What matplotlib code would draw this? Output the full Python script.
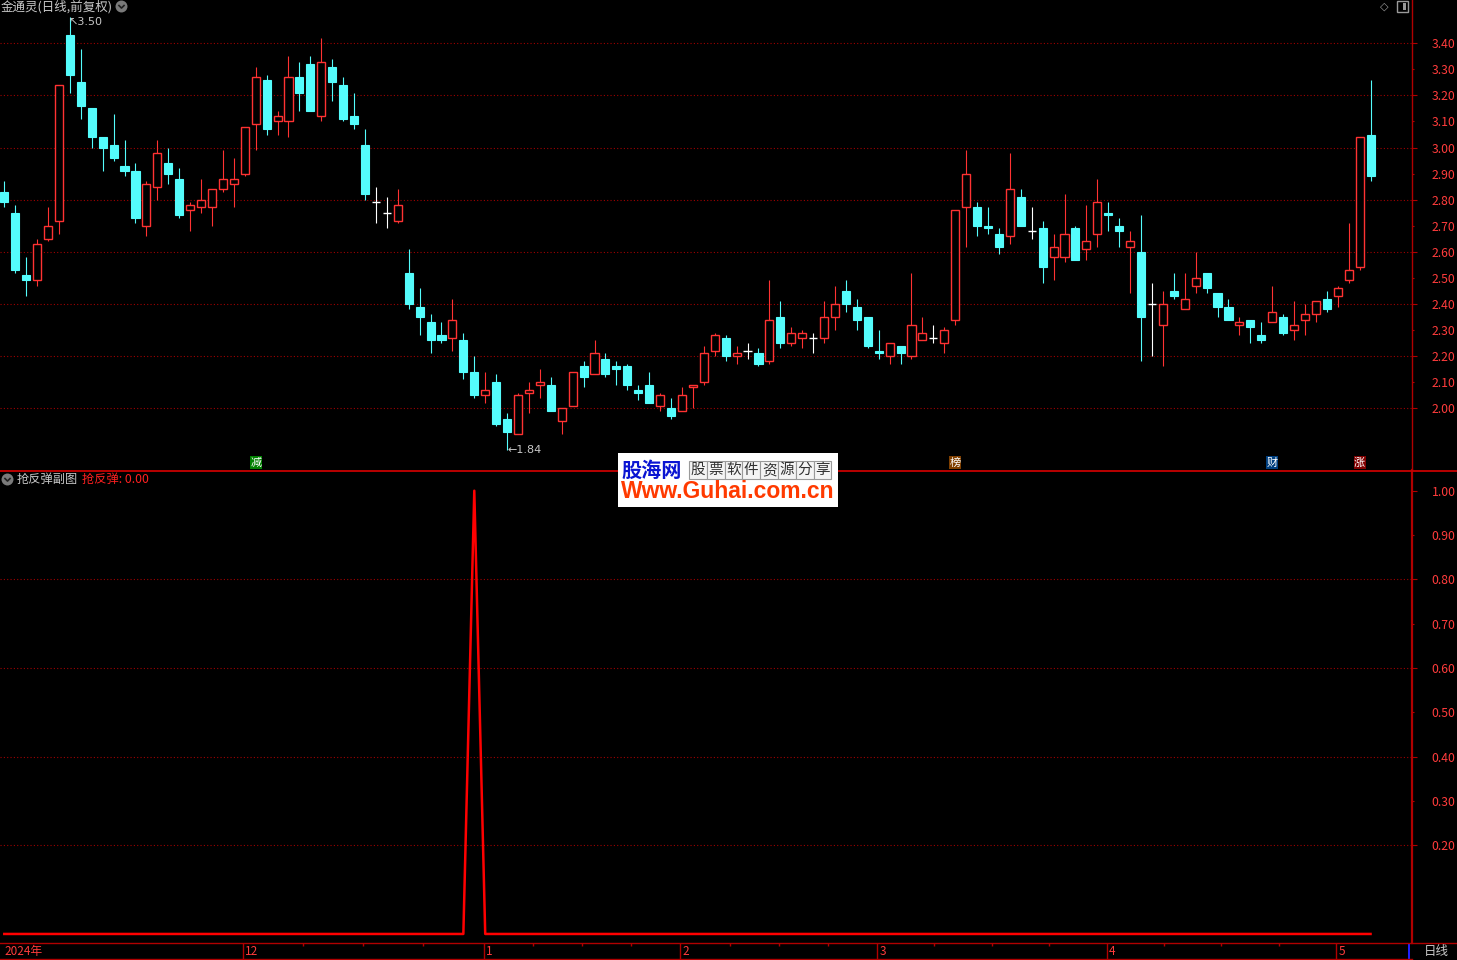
import matplotlib
matplotlib.use('Agg')
import matplotlib.pyplot as plt
from matplotlib.patches import Rectangle
from matplotlib.lines import Line2D
from matplotlib.path import Path
from matplotlib.ticker import FixedLocator, FormatStrFormatter

plt.rcParams['font.family'] = ['Noto Sans CJK SC', 'DejaVu Sans']

W, H = 1457, 960

# daily candles
opens = [
    2.83, 2.75, 2.51, 2.49, 2.65, 2.72, 3.43, 3.25, 3.15, 3.04,
    3.01, 2.93, 2.91, 2.70, 2.85, 2.94, 2.88, 2.76, 2.77, 2.77,
    2.84, 2.86, 2.90, 3.09, 3.26, 3.10, 3.10, 3.27, 3.32, 3.12,
    3.31, 3.24, 3.12, 3.01, 2.79, 2.75, 2.72, 2.52, 2.39, 2.33,
    2.28, 2.27, 2.26, 2.14, 2.05, 2.10, 1.96, 1.90, 2.06, 2.09,
    2.09, 1.95, 2.01, 2.16, 2.13, 2.19, 2.16, 2.16, 2.07, 2.09,
    2.01, 2.00, 1.99, 2.08, 2.10, 2.22, 2.27, 2.20, 2.22, 2.21,
    2.18, 2.35, 2.25, 2.27, 2.27, 2.27, 2.35, 2.45, 2.39, 2.35,
    2.22, 2.20, 2.24, 2.20, 2.26, 2.27, 2.25, 2.34, 2.77, 2.77,
    2.70, 2.67, 2.66, 2.81, 2.68, 2.69, 2.58, 2.58, 2.69, 2.61,
    2.67, 2.75, 2.70, 2.62, 2.60, 2.40, 2.32, 2.45, 2.38, 2.47,
    2.52, 2.44, 2.39, 2.32, 2.34, 2.28, 2.33, 2.35, 2.30, 2.34,
    2.36, 2.42, 2.43, 2.49, 2.54, 3.05]
highs = [
    2.87, 2.78, 2.58, 2.65, 2.77, 3.24, 3.50, 3.38, 3.15, 3.04,
    3.13, 3.03, 2.94, 2.87, 3.03, 3.00, 2.92, 2.79, 2.88, 2.84,
    2.99, 2.96, 3.08, 3.31, 3.28, 3.14, 3.35, 3.33, 3.35, 3.42,
    3.34, 3.27, 3.21, 3.07, 2.85, 2.81, 2.84, 2.61, 2.46, 2.36,
    2.33, 2.42, 2.29, 2.20, 2.14, 2.13, 1.98, 2.06, 2.10, 2.15,
    2.12, 2.00, 2.14, 2.18, 2.26, 2.21, 2.18, 2.17, 2.09, 2.14,
    2.06, 2.04, 2.08, 2.09, 2.24, 2.29, 2.28, 2.24, 2.25, 2.23,
    2.49, 2.41, 2.31, 2.30, 2.29, 2.41, 2.47, 2.49, 2.42, 2.35,
    2.30, 2.25, 2.24, 2.52, 2.35, 2.32, 2.31, 2.76, 2.99, 2.79,
    2.77, 2.69, 2.98, 2.84, 2.77, 2.72, 2.67, 2.82, 2.70, 2.78,
    2.88, 2.79, 2.73, 2.68, 2.74, 2.48, 2.45, 2.52, 2.52, 2.60,
    2.52, 2.44, 2.42, 2.35, 2.34, 2.33, 2.47, 2.36, 2.41, 2.40,
    2.41, 2.45, 2.47, 2.71, 3.04, 3.26]
lows = [
    2.77, 2.52, 2.43, 2.47, 2.64, 2.67, 3.21, 3.11, 3.00, 2.91,
    2.95, 2.89, 2.71, 2.66, 2.80, 2.86, 2.73, 2.68, 2.75, 2.70,
    2.83, 2.77, 2.89, 2.99, 3.05, 3.05, 3.04, 3.14, 3.14, 3.10,
    3.18, 3.10, 3.07, 2.80, 2.71, 2.69, 2.71, 2.38, 2.28, 2.21,
    2.25, 2.22, 2.11, 2.04, 2.02, 1.93, 1.84, 1.90, 1.98, 2.04,
    1.99, 1.90, 2.01, 2.08, 2.13, 2.12, 2.09, 2.07, 2.03, 2.02,
    1.99, 1.96, 1.99, 2.00, 2.09, 2.20, 2.18, 2.17, 2.19, 2.16,
    2.17, 2.23, 2.24, 2.23, 2.21, 2.25, 2.30, 2.37, 2.30, 2.23,
    2.19, 2.17, 2.17, 2.19, 2.26, 2.25, 2.21, 2.32, 2.62, 2.66,
    2.67, 2.59, 2.63, 2.70, 2.65, 2.48, 2.49, 2.56, 2.57, 2.57,
    2.62, 2.68, 2.62, 2.44, 2.18, 2.20, 2.16, 2.42, 2.38, 2.44,
    2.44, 2.35, 2.34, 2.28, 2.25, 2.25, 2.33, 2.28, 2.26, 2.28,
    2.33, 2.37, 2.39, 2.48, 2.53, 2.87]
closes = [
    2.79, 2.53, 2.49, 2.63, 2.70, 3.24, 3.28, 3.16, 3.04, 3.00,
    2.96, 2.91, 2.73, 2.86, 2.98, 2.90, 2.74, 2.78, 2.80, 2.84,
    2.88, 2.88, 3.08, 3.27, 3.07, 3.12, 3.27, 3.21, 3.14, 3.33,
    3.25, 3.11, 3.09, 2.82, 2.79, 2.75, 2.78, 2.40, 2.35, 2.26,
    2.26, 2.34, 2.14, 2.05, 2.07, 1.94, 1.91, 2.05, 2.07, 2.10,
    1.99, 2.00, 2.14, 2.12, 2.21, 2.13, 2.15, 2.09, 2.06, 2.02,
    2.05, 1.97, 2.05, 2.09, 2.21, 2.28, 2.20, 2.21, 2.22, 2.17,
    2.34, 2.25, 2.29, 2.29, 2.27, 2.35, 2.40, 2.40, 2.34, 2.24,
    2.21, 2.25, 2.21, 2.32, 2.29, 2.27, 2.30, 2.76, 2.90, 2.70,
    2.69, 2.62, 2.84, 2.70, 2.68, 2.54, 2.62, 2.67, 2.57, 2.64,
    2.79, 2.74, 2.68, 2.64, 2.35, 2.40, 2.40, 2.43, 2.42, 2.50,
    2.46, 2.39, 2.34, 2.33, 2.31, 2.26, 2.37, 2.29, 2.32, 2.36,
    2.41, 2.38, 2.46, 2.53, 3.04, 2.89]

# indicator 抢反弹 (0/1 signal)
signal = [0.0] * 43 + [1.0] + [0.0] * 82

# month boundaries on the time axis
month_starts = [22, 44, 62, 80, 101, 122]
month_labels = ['12', '1', '2', '3', '4', '5']
first_label = '2024年'

# event flags above the lower border of the price panel
flag_idx = [23, 87, 116, 124]
flag_text = ['减', '榜', '财', '涨']
flag_bg = ['#008000', '#7f3f00', '#003f7f', '#800000']

price_ticks_major = [2.0, 2.2, 2.4, 2.6, 2.8, 3.0, 3.2, 3.4]
price_ticks_minor = [2.1, 2.3, 2.5, 2.7, 2.9, 3.1, 3.3]
sig_ticks_major = [0.2, 0.4, 0.6, 0.8, 1.0]
sig_ticks_minor = [0.3, 0.5, 0.7, 0.9]

n = len(closes)
assert len(opens) == len(highs) == len(lows) == n == len(signal)

UP = '#ff3232'
DOWN = '#54fcfc'
GRID = '#a00000'
BORDER = '#b00000'
LABEL = '#ff3c3c'
GREY = '#c8c8c8'


def fx(x):
    return x / W


def fy(y):
    return 1 - y / H


fig = plt.figure(figsize=(W / 100, H / 100), dpi=100, facecolor='black')

axis_x = 1411.7
xlim = (-0.393, (axis_x - 4.3) / 10.93)

ax = fig.add_axes([0, fy(470), fx(axis_x), 470 / H])
axb = fig.add_axes([0, fy(943), fx(axis_x), (943 - 470) / H])
axt = fig.add_axes([0, 0, fx(axis_x), 17 / H])

for a in (ax, axb, axt):
    a.set_facecolor('black')
    for s in a.spines.values():
        s.set_visible(False)
    a.set_xlim(xlim)
    a.set_xticks([])

ax.set_ylim(1.7626, 3.5662)
axb.set_ylim(-0.0204, 1.0467)
axt.set_ylim(0, 1)
axt.set_yticks([])


def price_axis(a, major, minor):
    a.yaxis.tick_right()
    a.yaxis.set_major_locator(FixedLocator(major))
    a.yaxis.set_minor_locator(FixedLocator(minor))
    a.yaxis.set_major_formatter(FormatStrFormatter('%.2f'))
    a.yaxis.set_minor_formatter(FormatStrFormatter('%.2f'))
    a.tick_params(axis='y', which='major', length=3.6, width=0.8, color=BORDER,
                  labelcolor=LABEL, labelsize=8.8, pad=10.8)
    a.tick_params(axis='y', which='minor', length=1.4, width=0.8, color=BORDER,
                  labelcolor=LABEL, labelsize=8.8, pad=13.0)


price_axis(ax, price_ticks_major, price_ticks_minor)
price_axis(axb, sig_ticks_major, sig_ticks_minor)

for p in price_ticks_major:
    ax.axhline(p, color=GRID, lw=0.8, ls=(0, (1, 2)), zorder=0)
for v in [0.2, 0.4, 0.6, 0.8]:
    axb.axhline(v, color=GRID, lw=0.8, ls=(0, (1, 2)), zorder=0)

# candles
w = 0.74
for i in range(n):
    o, h, l, c = opens[i], highs[i], lows[i], closes[i]
    top, bot = max(o, c), min(o, c)
    if c > o:
        col = UP
    elif c < o:
        col = DOWN
    else:
        col = 'white'
    ax.vlines(i, top, h, color=col, lw=0.8, zorder=2)
    ax.vlines(i, l, bot, color=col, lw=0.8, zorder=2)
    if c > o:
        ax.add_patch(Rectangle((i - w / 2, bot), w, top - bot, facecolor='black',
                               edgecolor=col, lw=1.0, zorder=3))
    elif c < o:
        ax.add_patch(Rectangle((i - w / 2, bot), w, top - bot, facecolor=col,
                               edgecolor=col, lw=0.8, zorder=3))
    else:
        ax.hlines(o, i - w / 2, i + w / 2, color=col, lw=1.0, zorder=3)

# high / low markers
hi = highs.index(max(highs))
lo = lows.index(min(lows))
ax.text(hi - 0.15, max(highs) - 0.018, '↖%.2f' % max(highs), color=GREY, fontsize=8,
        family=['DejaVu Sans'], va='center', ha='left')
ax.text(lo, min(lows), '←%.2f' % min(lows), color=GREY, fontsize=8,
        family=['DejaVu Sans'], va='center', ha='left')

# event flags
for i, t, bg in zip(flag_idx, flag_text, flag_bg):
    x = 4.3 + i * 10.93
    fig.add_artist(Rectangle((fx(x - 6), fy(469)), 12 / W, 13 / H, transform=fig.transFigure,
                             facecolor=bg, edgecolor='none'))
    fig.text(fx(x), fy(462.5), t, color='white', fontsize=8, ha='center', va='center')

# indicator line
axb.plot(range(n), signal, color='#ff0000', lw=1.8, zorder=3)

# time axis
for m, lab in zip(month_starts, month_labels):
    axt.vlines(m - 0.15, 0, 1, color=BORDER, lw=1.0)
    axt.text(m + 0.05, 0.5, lab, color=LABEL, fontsize=8.5, va='center', ha='left')
axt.text(0.05, 0.5, first_label, color=LABEL, fontsize=8.5, va='center', ha='left')
for a, b in zip(month_starts[:-1], month_starts[1:]):
    for q in (1, 2, 3):
        xq = (a - 0.15) + (b - a) * q / 4
        axt.vlines(xq, 0.82, 1, color=BORDER, lw=1.0)


# frame lines
def fline(xs, ys, color, lw):
    fig.add_artist(Line2D([fx(v) for v in xs], [fy(v) for v in ys], color=color, lw=lw,
                          transform=fig.transFigure))


fline([axis_x, axis_x], [0, 470], BORDER, 1.0)
fline([axis_x, axis_x], [470, 943], BORDER, 1.6)
fline([0, W], [470.5, 470.5], '#c80000', 1.3)
fline([0, W], [943, 943], BORDER, 1.0)
fline([0, axis_x], [959, 959], BORDER, 1.0)
fig.add_artist(Rectangle((fx(1407.5), fy(959)), 2.5 / W, 15 / H, transform=fig.transFigure,
                         facecolor='#2020ff', edgecolor='none'))
fig.text(fx(1436), fy(951), '日线', color=GREY, fontsize=9, ha='center', va='center')


# panel titles
def round_icon(x, y):
    fig.add_artist(Line2D([fx(x)], [fy(y)], marker='o', markersize=8.6, color='#7a7a7a',
                          markeredgewidth=0, transform=fig.transFigure))
    chev = Path([(-1, 0.5), (0, -0.5), (1, 0.5)], [Path.MOVETO, Path.LINETO, Path.LINETO])
    fig.add_artist(Line2D([fx(x)], [fy(y)], marker=chev, markersize=4.5, color='#202020',
                          fillstyle='none', markeredgewidth=1.2, transform=fig.transFigure))


fig.text(fx(1), fy(6.5), '金通灵(日线,前复权)', color=GREY, fontsize=9, ha='left', va='center')
round_icon(121, 6)
fig.text(fx(1384), fy(6.5), '◇', color='#9a9a9a', fontsize=8, family=['DejaVu Sans'],
         ha='center', va='center')
fig.add_artist(Rectangle((fx(1396.5), fy(12)), 11 / W, 11 / H, transform=fig.transFigure,
                         facecolor='none', edgecolor='#9a9a9a', lw=1.0))
fig.add_artist(Rectangle((fx(1402.5), fy(10)), 3 / W, 7 / H, transform=fig.transFigure,
                         facecolor='#9a9a9a', edgecolor='none'))

round_icon(7, 479)
fig.text(fx(17), fy(479), '抢反弹副图', color=GREY, fontsize=8.8, ha='left', va='center')
fig.text(fx(82), fy(479), '抢反弹: 0.00', color='#ff2020', fontsize=8.8, ha='left', va='center')

# watermark box
fig.add_artist(Rectangle((fx(618), fy(507)), 220 / W, 54 / H, transform=fig.transFigure,
                         facecolor='white', edgecolor='none', zorder=5))
fig.text(fx(651.5), fy(470), '股海网', color='#0a14d2', fontsize=14.5, fontweight='bold',
         ha='center', va='center', zorder=6)
cells = '股票软件资源分享'
cw = 17.8
for k, ch in enumerate(cells):
    x0 = 689 + k * cw
    fig.add_artist(Rectangle((fx(x0), fy(479)), cw / W, 18 / H, transform=fig.transFigure,
                             facecolor='#f4f4f4', edgecolor='#9a9a9a', lw=0.8, zorder=6))
    fig.text(fx(x0 + cw / 2), fy(470), ch, color='#303030', fontsize=10.5,
             ha='center', va='center', zorder=7)
fig.text(fx(728), fy(492), 'Www.Guhai.com.cn', color='#ff3a00', fontsize=16.5,
         fontweight='bold', family=['Liberation Sans', 'DejaVu Sans'],
         ha='center', va='center', zorder=6)

fig.savefig('out.png', dpi=100, facecolor='black')
